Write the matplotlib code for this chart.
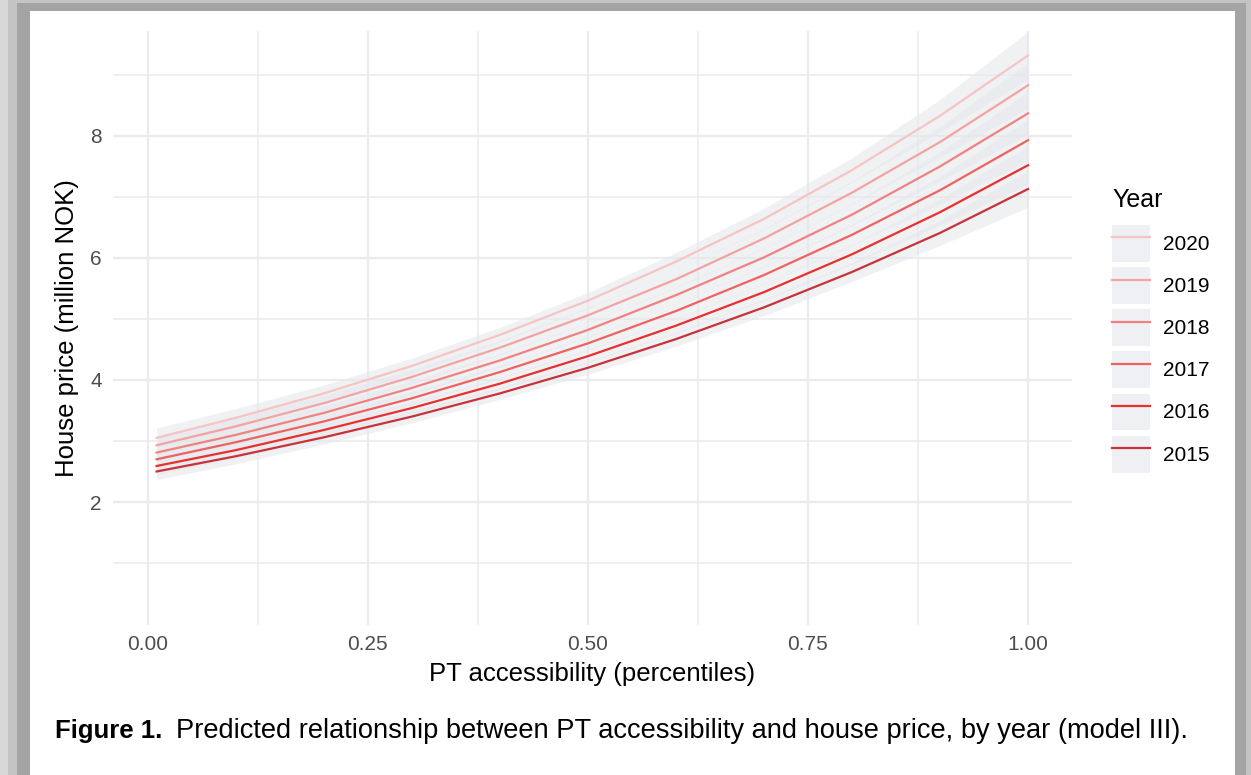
import numpy as np
import matplotlib.pyplot as plt
from matplotlib.patches import Rectangle, Patch
from matplotlib.lines import Line2D

plt.rcParams['font.family'] = ['Liberation Sans', 'DejaVu Sans']

#values
pt_acc = [0.01, 0.1, 0.2, 0.3, 0.4, 0.5, 0.6, 0.7, 0.8, 0.9, 1.0]
years = [2015, 2016, 2017, 2018, 2019, 2020]

price_2015 = [2.50, 2.75, 3.06, 3.40, 3.78, 4.20, 4.67, 5.19, 5.77, 6.41, 7.13]
price_2016 = [2.59, 2.85, 3.18, 3.54, 3.94, 4.39, 4.89, 5.44, 6.06, 6.75, 7.52]
price_2017 = [2.70, 2.98, 3.32, 3.70, 4.13, 4.60, 5.13, 5.72, 6.38, 7.11, 7.93]
price_2018 = [2.81, 3.10, 3.46, 3.87, 4.32, 4.82, 5.39, 6.01, 6.71, 7.50, 8.37]
price_2019 = [2.93, 3.24, 3.62, 4.05, 4.53, 5.06, 5.65, 6.32, 7.07, 7.90, 8.83]
price_2020 = [3.05, 3.38, 3.78, 4.23, 4.74, 5.30, 5.94, 6.64, 7.44, 8.33, 9.32]

#half width of the confidence band, relative to the predicted price
ci_rel = [0.053, 0.045, 0.036, 0.030, 0.026, 0.025, 0.025, 0.026, 0.027, 0.032, 0.042]

prices = [price_2015, price_2016, price_2017, price_2018, price_2019, price_2020]
line_colors = ['#c8323a', '#e8302e', '#ee6262', '#f08282', '#f3a3a3', '#f6c4c4']

W, H = 1251, 775
fig = plt.figure(figsize=(W/100, H/100), dpi=100)
fig.patch.set_facecolor('#d8d8d8')

#page frame with shadow
def frame(x0, y0, x1, y1, color):
    fig.add_artist(Rectangle((x0/W, 1-y1/H), (x1-x0)/W, (y1-y0)/H,
                             transform=fig.transFigure, facecolor=color,
                             edgecolor='none', zorder=-3))

frame(8, 0, 1251, 775, '#c4c4c4')
frame(17, 3, 1246, 775, '#a4a4a4')
frame(30, 11, 1235, 775, 'white')

ax = fig.add_axes([113/W, 1-625/H, (1071.6-113)/W, (625-31)/H])
ax.set_facecolor('none')

rel = np.array(ci_rel)
for yr, p, c in zip(years, prices, line_colors):
    p = np.array(p)
    ax.fill_between(pt_acc, p*(1-rel), p*(1+rel), color='#e6e8ec', alpha=0.6,
                    linewidth=0, zorder=2)
for yr, p, c in zip(years, prices, line_colors):
    ax.plot(pt_acc, p, color=c, lw=1.6, zorder=3)

ax.set_xlim(-0.0395, 1.0495)
ax.set_ylim(-0.016, 9.72)
ax.set_xticks([0, 0.25, 0.5, 0.75, 1.0])
ax.set_xticklabels(['0.00', '0.25', '0.50', '0.75', '1.00'])
ax.set_xticks([0.125, 0.375, 0.625, 0.875], minor=True)
ax.set_yticks([2, 4, 6, 8])
ax.set_yticks([1, 3, 5, 7, 9], minor=True)
ax.tick_params(which='both', length=0, labelsize=15, labelcolor='#4d4d4d')
ax.tick_params(axis='x', pad=7)
ax.tick_params(axis='y', pad=8)
ax.grid(which='major', color='#ebebee', lw=1.6, zorder=0)
ax.grid(which='minor', color='#ebebee', lw=1.1, zorder=0)
ax.set_axisbelow(True)
for s in ax.spines.values():
    s.set_visible(False)

ax.set_xlabel('PT accessibility (percentiles)', size=18.5, labelpad=6)
ax.set_ylabel('House price (million NOK)', size=18.5, labelpad=8)

#legend, newest year on top
handles = []
for c in line_colors[::-1]:
    handles.append((Patch(facecolor='#eff0f3', edgecolor='none'),
                    Line2D([], [], color=c, lw=1.6)))
labels = [str(y) for y in years[::-1]]
fig.legend(handles, labels, loc='upper left', bbox_to_anchor=(1112/W, 1-225/H),
           frameon=False, fontsize=15, handlelength=1.82, handleheight=2.35,
           labelspacing=0.25, handletextpad=0.62, borderpad=0, borderaxespad=0)
fig.text(1112/W, 1-200/H, 'Year', size=18, va='center', ha='left')

#caption
t1 = fig.text(55/W, 1-731/H, 'Figure 1.', size=18.5, weight='bold', va='center')
fig.canvas.draw()
bb = t1.get_window_extent()
fig.text((bb.x1+14)/W, 1-731/H,
         'Predicted relationship between PT accessibility and house price, by year (model III).',
         size=19.6, va='center')

fig.savefig('out.png', dpi=100)
